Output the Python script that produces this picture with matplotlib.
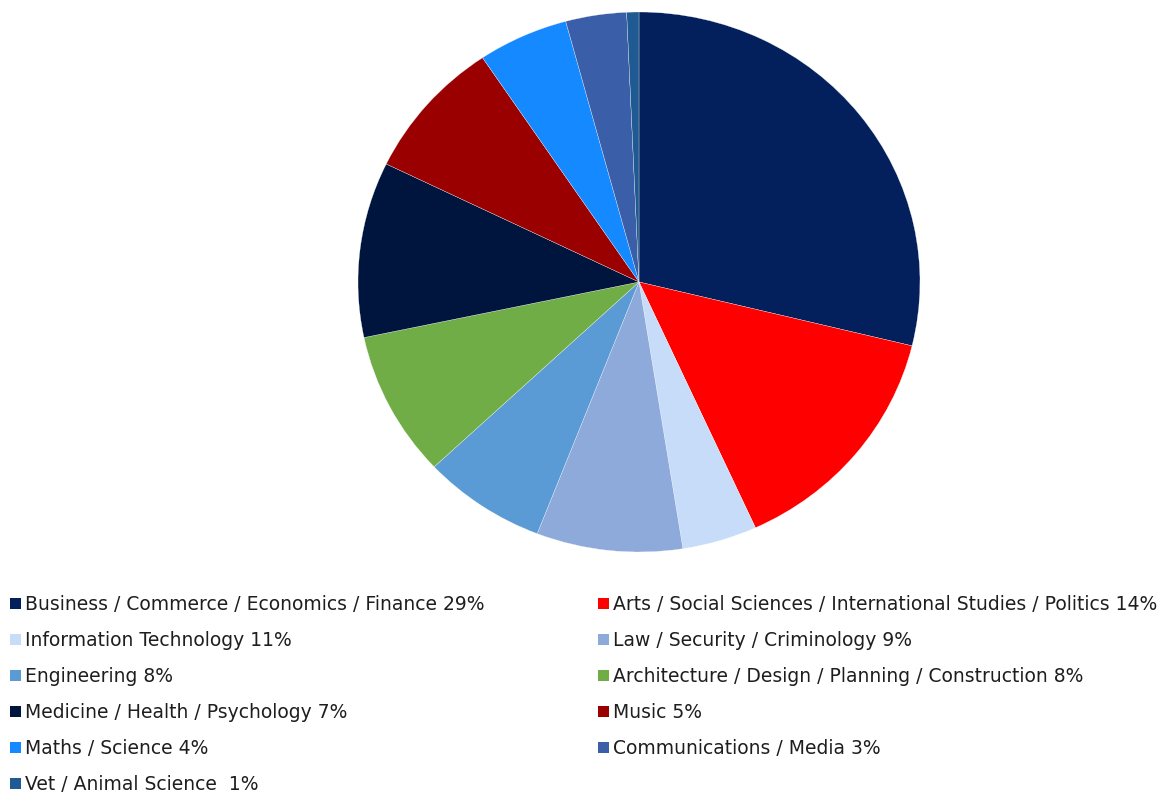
import matplotlib
matplotlib.use("Agg")
import matplotlib.pyplot as plt
from matplotlib.patches import Rectangle

plt.rcParams['font.family'] = ['DejaVu Sans']

categories = [
    "Business / Commerce / Economics / Finance 29%",
    "Arts / Social Sciences / International Studies / Politics 14%",
    "Information Technology 11%",
    "Law / Security / Criminology 9%",
    "Engineering 8%",
    "Architecture / Design / Planning / Construction 8%",
    "Medicine / Health / Psychology 7%",
    "Music 5%",
    "Maths / Science 4%",
    "Communications / Media 3%",
    "Vet / Animal Science  1%",
]
shares = [28.8, 14.4, 4.3, 8.4, 7.1, 8.7, 10.5, 8.4, 5.2, 3.5, 0.7]
colors = [
    "#03205c", "#ff0000", "#c6dcf8", "#8eaadb", "#5b9bd5", "#70ad47",
    "#00153d", "#9a0000", "#1589ff", "#3a5ea8", "#1f5b92",
]

W, H = 1174, 795
fig = plt.figure(figsize=(W / 100, H / 100), dpi=100)

cx, cy, rx, ry = 639, 282, 281, 270
ax = fig.add_axes([(cx - rx) / W, (H - cy - ry) / H, 2 * rx / W, 2 * ry / H])
ax.pie(shares, colors=colors, startangle=90, counterclock=False,
       wedgeprops=dict(edgecolor="white", linewidth=0.2))
ax.set_aspect("auto")
ax.set_xlim(-1, 1)
ax.set_ylim(-1, 1)
ax.axis("off")

# two-column key below the pie, read row by row
col_x = [10, 598]
row_y0, row_dy = 603, 36
sq = 11
for i, (label, c) in enumerate(zip(categories, colors)):
    row, col = divmod(i, 2)
    x = col_x[col]
    y = row_y0 + row * row_dy
    fig.patches.append(Rectangle((x / W, (H - y - sq / 2) / H), sq / W, sq / H,
                                 transform=fig.transFigure, facecolor=c,
                                 edgecolor="none"))
    fig.text((x + sq + 4) / W, (H - y - 1) / H, label, fontsize=13.5,
             color="#1e1e1e", va="center", ha="left")

fig.savefig("out.png", dpi=100, facecolor="white")
